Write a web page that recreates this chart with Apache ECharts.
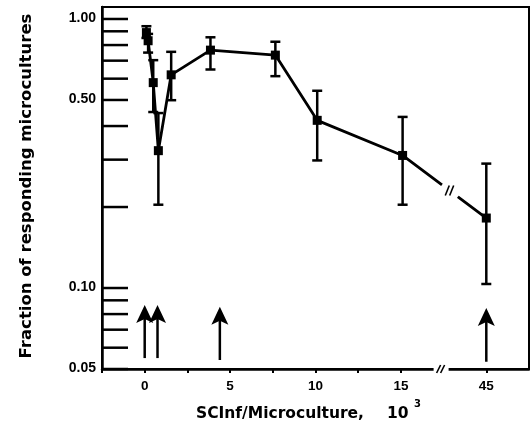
<!DOCTYPE html>
<html><head><meta charset="utf-8">
<script src="https://cdn.jsdelivr.net/npm/echarts@6/dist/echarts.min.js"></script>
<style>html,body{margin:0;padding:0;background:#fff}#c{width:530px;height:426px}</style>
</head><body><div id="c"></div>
<script>
// ---- data ----
const doseK        = [0.1, 0.2, 0.5, 0.8, 1.55, 3.85, 7.65, 10.1, 15.1, 45];
const fraction     = [0.89, 0.83, 0.58, 0.324, 0.62, 0.766, 0.734, 0.42, 0.311, 0.182];
const fractionLow  = [0.85, 0.75, 0.451, 0.204, 0.499, 0.649, 0.613, 0.298, 0.204, 0.1035];
const fractionHigh = [0.94, 0.88, 0.703, 0.447, 0.755, 0.855, 0.823, 0.541, 0.4325, 0.29];
const arrowDoseK   = [0, 0.75, 4.4, 45];
const arrowFrom    = [0.0549, 0.0549, 0.054, 0.0532];
const arrowTo      = [0.0865, 0.0865, 0.0852, 0.0843];
const xTickValues  = [0, 5, 10, 15, 45];
const xTickLabels  = ['0', '5', '10', '15', '45'];
const xMinorTicks  = [-2.5, 0, 2.5, 5, 7.5, 10, 12.5, 15, 45];
const yTickValues  = [1, 0.5, 0.1, 0.05];
const yTickLabels  = ['1.00', '0.50', '0.10', '0.05'];
const yMinorTicks  = [0.05, 0.06, 0.07, 0.08, 0.09, 0.1, 0.2, 0.3, 0.4, 0.5, 0.6, 0.7, 0.8, 0.9, 1];
const xTitle = 'SCInf/Microculture,';
const xTitleUnit = '10';
const xTitleExp = '3';
const yTitle = 'Fraction of responding microcultures';

// broken x axis: 17.5 .. 42.5 is cut out
const BREAK_START = 17.5, BREAK_END = 42.5;
const toAxisX = v => v >= BREAK_END ? v - (BREAK_END - BREAK_START) : v;
const X_MIN = -2.5, X_MAX = 22.5, Y_MIN = 0.05, Y_MAX = 1.108;

const pts = doseK.map((d, i) => [toAxisX(d), fraction[i]]);
const errData = doseK.map((d, i) => [toAxisX(d), fractionLow[i], fractionHigh[i]]);
const arrowData = arrowDoseK.map((d, i) => [toAxisX(d), arrowFrom[i], arrowTo[i]]);
const xLabelPos = xTickValues.map(toAxisX);
const n = doseK.length;

const labelFont = 'bold 14px "Liberation Sans", Arial, sans-serif';
const titleFont = 'bold 15.5px "DejaVu Sans", sans-serif';

const chart = echarts.init(document.getElementById('c'), null, {renderer: 'canvas'});
chart.setOption({
  animation: false,
  backgroundColor: '#fff',
  grid: {left: 102, right: 1, top: 7, bottom: 57, show: true, borderColor: '#000', borderWidth: 2, backgroundColor: 'transparent'},
  xAxis: {
    type: 'value', min: X_MIN, max: X_MAX,
    axisLine: {show: true, onZero: false, lineStyle: {color: '#000', width: 2.5}},
    axisTick: {show: true, customValues: xMinorTicks.map(toAxisX), length: 4, inside: false, lineStyle: {color: '#000', width: 2}},
    axisLabel: {show: true, customValues: xLabelPos, margin: 10, color: '#000', fontFamily: '"Liberation Sans", Arial, sans-serif', fontWeight: 'bold', fontSize: 13.5,
      formatter: v => { const i = xLabelPos.indexOf(v); return i >= 0 ? xTickLabels[i] : ''; }},
    splitLine: {show: false}
  },
  yAxis: {
    type: 'log', logBase: 10, min: Y_MIN, max: Y_MAX,
    axisLine: {show: true, onZero: false, lineStyle: {color: '#000', width: 2.5}},
    axisTick: {show: false}, axisLabel: {show: false}, splitLine: {show: false}, minorTick: {show: false}
  },
  graphic: [
    {type: 'text', x: 27, y: 186, rotation: Math.PI / 2,
      style: {text: yTitle, font: 'bold 16.5px "DejaVu Sans", sans-serif', fill: '#000', textAlign: 'center', textVerticalAlign: 'middle', align: 'center', verticalAlign: 'middle'}},
    {type: 'text', x: 196, y: 414,
      style: {text: xTitle, font: titleFont, fill: '#000', textAlign: 'left', textVerticalAlign: 'middle', align: 'left', verticalAlign: 'middle'}},
    {type: 'text', x: 387, y: 414,
      style: {text: xTitleUnit, font: titleFont, fill: '#000', textAlign: 'left', textVerticalAlign: 'middle', align: 'left', verticalAlign: 'middle'}},
    {type: 'text', x: 414, y: 404,
      style: {text: xTitleExp, font: 'bold 10px "DejaVu Sans", sans-serif', fill: '#000', textAlign: 'left', textVerticalAlign: 'middle', align: 'left', verticalAlign: 'middle'}}
  ],
  series: [
    { // y ticks (inside, long)
      type: 'custom', silent: true, z: 1,
      data: yMinorTicks.map(v => [X_MIN, v]), encode: {x: 0, y: 1},
      renderItem: (params, api) => {
        const p = api.coord([api.value(0), api.value(1)]);
        return {type: 'line', shape: {x1: p[0], y1: p[1], x2: p[0] + 26, y2: p[1]}, style: {stroke: '#000', lineWidth: 2.5}};
      }
    },
    { // y tick labels
      type: 'custom', silent: true, z: 1,
      data: yTickValues.map((v, i) => [X_MIN, v, i]), encode: {x: 0, y: 1},
      renderItem: (params, api) => {
        const p = api.coord([api.value(0), api.value(1)]);
        return {type: 'text', x: p[0] - 6, y: p[1] - 1,
          style: {text: yTickLabels[api.value(2)], font: labelFont, fill: '#000', textAlign: 'right', textVerticalAlign: 'middle', align: 'right', verticalAlign: 'middle'}};
      }
    },
    { // error bars
      type: 'custom', silent: true, z: 2,
      data: errData, encode: {x: 0, y: [1, 2]},
      renderItem: (params, api) => {
        const lo = api.coord([api.value(0), api.value(1)]);
        const hi = api.coord([api.value(0), api.value(2)]);
        const w = 5;
        const st = {stroke: '#000', lineWidth: 2.5};
        return {type: 'group', children: [
          {type: 'line', shape: {x1: lo[0], y1: lo[1], x2: hi[0], y2: hi[1]}, style: st},
          {type: 'line', shape: {x1: lo[0] - w, y1: lo[1], x2: lo[0] + w, y2: lo[1]}, style: st},
          {type: 'line', shape: {x1: hi[0] - w, y1: hi[1], x2: hi[0] + w, y2: hi[1]}, style: st}
        ]};
      }
    },
    { // main line
      type: 'line', data: pts, z: 3,
      symbol: 'rect', symbolSize: 9,
      lineStyle: {color: '#000', width: 2.8},
      itemStyle: {color: '#000'},
      silent: true
    },
    { // break in the last segment
      type: 'custom', silent: true, z: 4,
      data: [[pts[n - 2][0], pts[n - 2][1], pts[n - 1][0], pts[n - 1][1]]], encode: {x: [0, 2], y: [1, 3]},
      renderItem: (params, api) => {
        const a = api.coord([api.value(0), api.value(1)]);
        const b = api.coord([api.value(2), api.value(3)]);
        const at = t => [a[0] + (b[0] - a[0]) * t, a[1] + (b[1] - a[1]) * t];
        const g1 = at(0.47), g2 = at(0.66), c = at(0.56);
        const sl = d => ({type: 'line', shape: {x1: c[0] + d - 2, y1: c[1] + 5, x2: c[0] + d + 2, y2: c[1] - 5}, style: {stroke: '#000', lineWidth: 1.6}});
        return {type: 'group', children: [
          {type: 'line', shape: {x1: g1[0], y1: g1[1], x2: g2[0], y2: g2[1]}, style: {stroke: '#fff', lineWidth: 7}},
          sl(-2.2), sl(2.2)
        ]};
      }
    },
    { // break on the x axis
      type: 'custom', silent: true, z: 5,
      data: [[BREAK_START, Y_MIN]], encode: {x: 0, y: 1},
      renderItem: (params, api) => {
        const p = api.coord([api.value(0), api.value(1)]);
        const cx = p[0] - 3;
        const sl = d => ({type: 'line', shape: {x1: cx + d - 2, y1: p[1] + 4, x2: cx + d + 2, y2: p[1] - 4}, style: {stroke: '#000', lineWidth: 1.6}});
        return {type: 'group', children: [
          {type: 'rect', shape: {x: p[0] - 10, y: p[1] - 3, width: 15, height: 6}, style: {fill: '#fff'}},
          sl(-2), sl(2)
        ]};
      }
    },
    { // arrows
      type: 'custom', silent: true, z: 4,
      data: arrowData, encode: {x: 0, y: [1, 2]},
      renderItem: (params, api) => {
        const bot = api.coord([api.value(0), api.value(1)]);
        const tip = api.coord([api.value(0), api.value(2)]);
        return {type: 'group', children: [
          {type: 'line', shape: {x1: bot[0], y1: bot[1], x2: tip[0], y2: tip[1] + 12}, style: {stroke: '#000', lineWidth: 2.5}},
          {type: 'polygon', shape: {points: [[tip[0], tip[1]], [tip[0] - 8.5, tip[1] + 18], [tip[0], tip[1] + 14], [tip[0] + 8.5, tip[1] + 18]]}, style: {fill: '#000'}}
        ]};
      }
    }
  ]
});
</script></body></html>
